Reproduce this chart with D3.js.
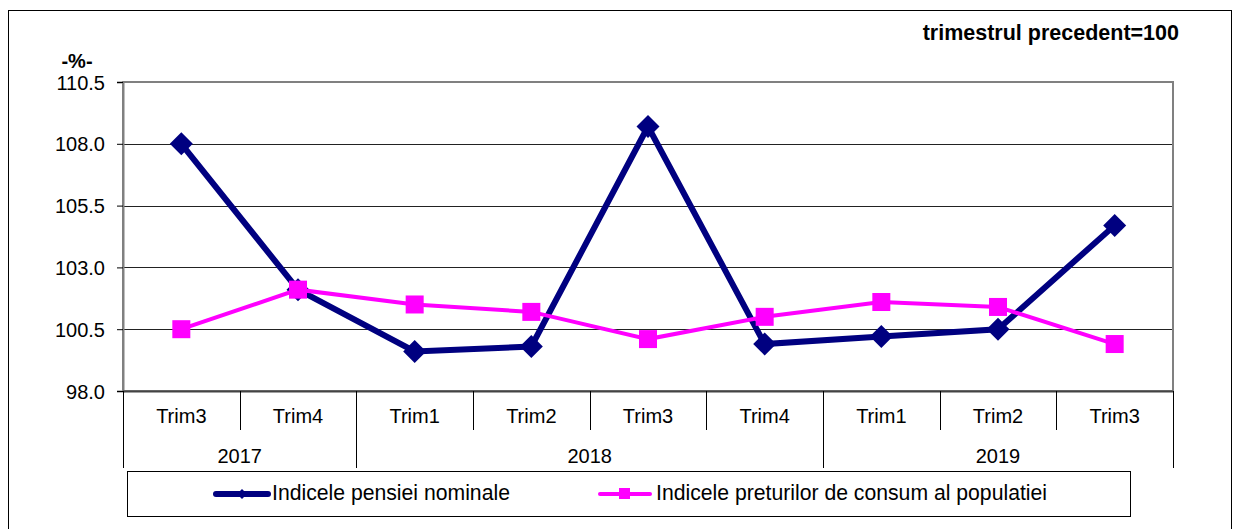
<!DOCTYPE html>
<html><head><meta charset="utf-8">
<script src="https://cdn.jsdelivr.net/npm/d3@7"></script>
<style>body{margin:0;background:#fff}svg text{font-family:"Liberation Sans",Arial,sans-serif}</style>
</head><body>
<svg id="c" width="1240" height="529"></svg>
<script>
const quarters = ["Trim3","Trim4","Trim1","Trim2","Trim3","Trim4","Trim1","Trim2","Trim3"];
const years = [{label:"2017", start:0, end:2},{label:"2018", start:2, end:6},{label:"2019", start:6, end:9}];
const pensionIndex = [108.0,102.1,99.6,99.8,108.7,99.9,100.2,100.5,104.7];
const cpiIndex = [100.5,102.1,101.5,101.2,100.1,101.0,101.6,101.4,99.9];
const yTicks = [98.0,100.5,103.0,105.5,108.0,110.5];
const seriesNames = ["Indicele pensiei nominale","Indicele preturilor de consum al populatiei"];

const FS = 20;
const svg = d3.select("#c");
const L=123, R=1173, T=82, B=391;
const x = d3.scaleBand().domain(d3.range(quarters.length)).range([L,R]);
const y = d3.scaleLinear().domain([98,110.5]).range([B,T]);

svg.append("rect").attr("x",8.5).attr("y",10.5).attr("width",1223).attr("height",530)
  .attr("fill","none").attr("stroke","#000").attr("stroke-width",1);

svg.append("g").selectAll("line").data(yTicks.slice(1,-1)).join("line")
  .attr("x1",L).attr("x2",R).attr("y1",d=>Math.round(y(d))+0.5).attr("y2",d=>Math.round(y(d))+0.5)
  .attr("stroke","#222").attr("stroke-width",1);

svg.append("rect").attr("x",L).attr("y",T).attr("width",R-L).attr("height",B-T)
  .attr("fill","none").attr("stroke","#808080").attr("stroke-width",2);

const ya = svg.append("g").attr("transform",`translate(${L},0)`)
  .call(d3.axisLeft(y).tickValues(yTicks).tickFormat(d3.format(".1f")).tickSize(6).tickPadding(12));
ya.attr("font-size",FS).attr("font-family","'Liberation Sans',Arial,sans-serif");
ya.select(".domain").attr("stroke","#808080").attr("stroke-width",2);
ya.selectAll(".tick line").attr("stroke","#000");
ya.selectAll("text").attr("fill","#000").attr("dy","0.35em")
  .style("font-size",FS+"px").style("font-family","'Liberation Sans',Arial,sans-serif");

svg.append("text").attr("x",77).attr("y",68).attr("text-anchor","middle")
  .attr("font-size",FS).attr("font-weight","bold").text("-%-");
svg.append("text").attr("x",1179).attr("y",40).attr("text-anchor","end")
  .attr("font-size",21.5).attr("font-weight","bold").text("trimestrul precedent=100");

svg.append("line").attr("x1",L).attr("x2",R).attr("y1",B+0.5).attr("y2",B+0.5).attr("stroke","#444").attr("stroke-width",2);

const seps = d3.range(quarters.length+1);
const yearBounds = new Set(years.flatMap(d=>[d.start,d.end]));
svg.append("g").selectAll("line").data(seps).join("line")
  .attr("x1",i=>Math.round(i<quarters.length?x(i):R)+0.5)
  .attr("x2",i=>Math.round(i<quarters.length?x(i):R)+0.5)
  .attr("y1",B).attr("y2",i=>yearBounds.has(i)?468:430)
  .attr("stroke","#000").attr("stroke-width",1);

svg.append("g").selectAll("text").data(quarters).join("text")
  .attr("x",(d,i)=>x(i)+x.bandwidth()/2).attr("y",423).attr("text-anchor","middle")
  .attr("font-size",FS).text(d=>d);
svg.append("g").selectAll("text").data(years).join("text")
  .attr("x",d=>(x(d.start)+(d.end<quarters.length?x(d.end):R))/2).attr("y",463).attr("text-anchor","middle")
  .attr("font-size",FS).text(d=>d.label);

const line = d3.line().x((d,i)=>x(i)+x.bandwidth()/2).y(d=>y(d));
svg.append("path").datum(pensionIndex).attr("d",line).attr("fill","none")
  .attr("stroke","#000080").attr("stroke-width",6).attr("stroke-linejoin","miter");
const diamond = s => `M0,${-s}L${s},0L0,${s}L${-s},0Z`;
svg.append("g").selectAll("path").data(pensionIndex).join("path")
  .attr("transform",(d,i)=>`translate(${x(i)+x.bandwidth()/2},${y(d)})`)
  .attr("d",diamond(11.5)).attr("fill","#000080");

svg.append("path").datum(cpiIndex).attr("d",line).attr("fill","none")
  .attr("stroke","#FF00FF").attr("stroke-width",4);
svg.append("g").selectAll("rect").data(cpiIndex).join("rect")
  .attr("x",(d,i)=>x(i)+x.bandwidth()/2-9).attr("y",d=>y(d)-9)
  .attr("width",18).attr("height",18).attr("fill","#FF00FF");

const LFS = 21.2;
svg.append("rect").attr("x",127.5).attr("y",471.5).attr("width",1003).attr("height",45)
  .attr("fill","#fff").attr("stroke","#000").attr("stroke-width",1);
const lg = svg.append("g");
lg.append("line").attr("x1",216).attr("x2",268).attr("y1",494).attr("y2",494)
  .attr("stroke","#000080").attr("stroke-width",6).attr("stroke-linecap","round");
lg.append("path").attr("transform","translate(242,494)").attr("d",diamond(5)).attr("fill","#000080");
lg.append("text").attr("x",272).attr("y",500).attr("font-size",LFS).text(seriesNames[0]);
lg.append("line").attr("x1",600).attr("x2",650).attr("y1",494).attr("y2",494)
  .attr("stroke","#FF00FF").attr("stroke-width",4).attr("stroke-linecap","round");
lg.append("rect").attr("x",619).attr("y",488).attr("width",11).attr("height",11).attr("fill","#FF00FF");
lg.append("text").attr("x",656).attr("y",500).attr("font-size",LFS).text(seriesNames[1]);
</script>
</body></html>
